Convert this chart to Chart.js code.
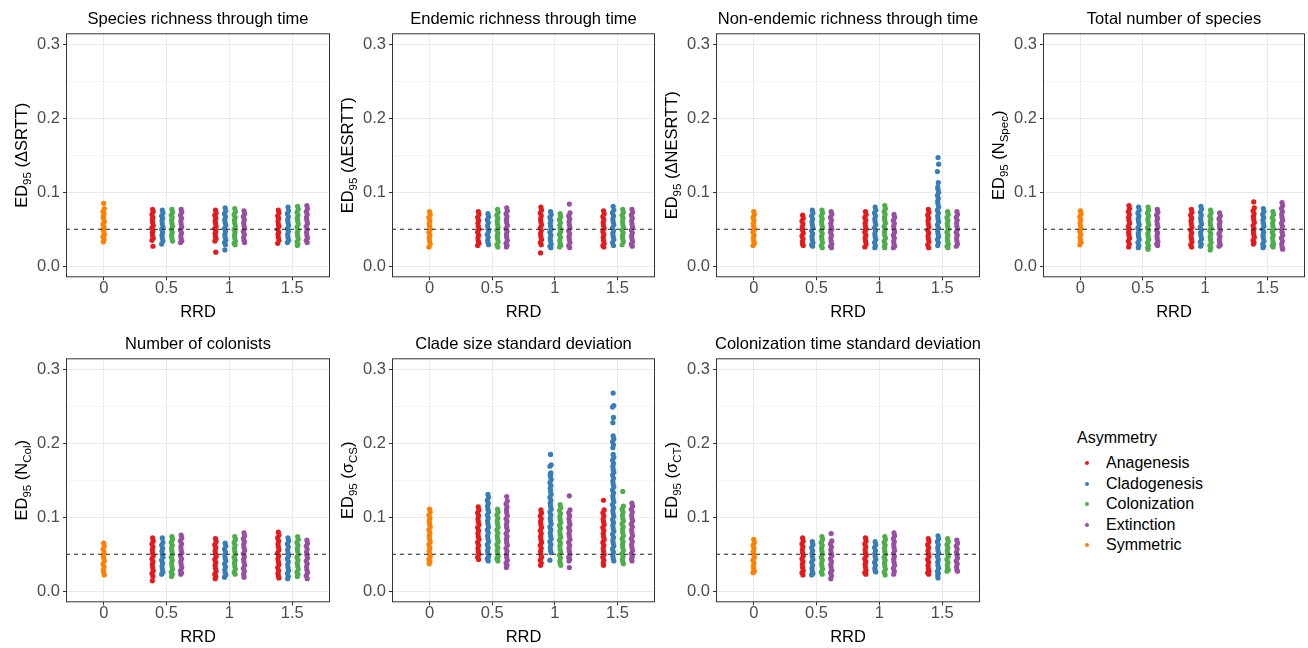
<!DOCTYPE html>
<html>
<head>
<meta charset="utf-8">
<script src="https://cdn.jsdelivr.net/npm/chart.js"></script>
<style>
  body { margin: 0; width: 1308px; height: 648px; overflow: hidden; background: #fff;
         font-family: "Liberation Sans", Arial, sans-serif; }
  .panel { position: absolute; }
  .leg { position: absolute; font-size: 16px; line-height: 20px; height: 20px; color: #000; white-space: nowrap; }
  .dot { position: absolute; width: 4px; height: 4px; border-radius: 50%; }
</style>
</head>
<body>
<div id="wrap"></div>
<script>
// categories and labels
const rrdLabels = ['0', '0.5', '1', '1.5'];
const groupNames = ['Anagenesis', 'Cladogenesis', 'Colonization', 'Extinction', 'Symmetric'];
const groupColors = ['#E41A1C', '#377EB8', '#4DAF4A', '#984EA3', '#FF7F00'];
const yBreaks = [0, 0.05, 0.1, 0.15, 0.2, 0.25, 0.3];
const yBreakLabels = ['0.0', '', '0.1', '', '0.2', '', '0.3'];
const threshold = 0.05;

const panelTitles = [
  'Species richness through time',
  'Endemic richness through time',
  'Non-endemic richness through time',
  'Total number of species',
  'Number of colonists',
  'Clade size standard deviation',
  'Colonization time standard deviation'
];
// y axis titles, [text, isSubscript]
const yTitleParts = [
  [['ED'], ['95', 1], [' (ΔSRTT)']],
  [['ED'], ['95', 1], [' (ΔESRTT)']],
  [['ED'], ['95', 1], [' (ΔNESRTT)']],
  [['ED'], ['95', 1], [' (N'], ['Spec', 1], [')']],
  [['ED'], ['95', 1], [' (N'], ['Col', 1], [')']],
  [['ED'], ['95', 1], [' (σ'], ['CS', 1], [')']],
  [['ED'], ['95', 1], [' (σ'], ['CT', 1], [')']]
];

// ED95 values; Sym = RRD 0, others = [RRD 0.5, RRD 1, RRD 1.5]
// Species richness through time
const p1Sym = [0.085, 0.078, 0.074, 0.071, 0.067, 0.064, 0.060, 0.057, 0.053, 0.050, 0.047, 0.043, 0.040, 0.036, 0.033];
const p1Ana = [
  [0.077, 0.074, 0.070, 0.066, 0.063, 0.059, 0.055, 0.052, 0.048, 0.045, 0.041, 0.038, 0.035, 0.027],
  [0.076, 0.072, 0.069, 0.065, 0.061, 0.058, 0.054, 0.051, 0.047, 0.044, 0.040, 0.037, 0.034, 0.019],
  [0.076, 0.072, 0.068, 0.065, 0.061, 0.057, 0.054, 0.050, 0.046, 0.043, 0.039, 0.035, 0.031]];
const p1Cla = [
  [0.076, 0.072, 0.068, 0.065, 0.061, 0.057, 0.053, 0.050, 0.046, 0.042, 0.038, 0.034, 0.030],
  [0.079, 0.075, 0.071, 0.067, 0.063, 0.059, 0.055, 0.051, 0.047, 0.043, 0.039, 0.035, 0.032, 0.029, 0.022],
  [0.080, 0.075, 0.071, 0.067, 0.063, 0.059, 0.055, 0.051, 0.047, 0.043, 0.039, 0.035, 0.032]];
const p1Col = [
  [0.077, 0.073, 0.069, 0.066, 0.062, 0.058, 0.054, 0.050, 0.046, 0.042, 0.038, 0.034],
  [0.078, 0.074, 0.070, 0.066, 0.062, 0.058, 0.054, 0.050, 0.046, 0.042, 0.038, 0.034, 0.031, 0.029],
  [0.081, 0.077, 0.073, 0.069, 0.065, 0.061, 0.057, 0.053, 0.049, 0.045, 0.041, 0.037, 0.033, 0.030, 0.028]];
const p1Ext = [
  [0.077, 0.073, 0.069, 0.065, 0.061, 0.057, 0.053, 0.049, 0.045, 0.041, 0.037, 0.034, 0.032],
  [0.075, 0.071, 0.067, 0.063, 0.059, 0.055, 0.051, 0.047, 0.043, 0.039, 0.035, 0.032],
  [0.082, 0.078, 0.074, 0.070, 0.066, 0.062, 0.058, 0.054, 0.050, 0.046, 0.042, 0.038, 0.035, 0.032]];

// Endemic richness through time
const p2Sym = [0.074, 0.070, 0.066, 0.062, 0.058, 0.054, 0.050, 0.046, 0.042, 0.038, 0.034, 0.030, 0.026];
const p2Ana = [
  [0.074, 0.070, 0.066, 0.062, 0.058, 0.054, 0.050, 0.046, 0.042, 0.038, 0.034, 0.031, 0.028],
  [0.080, 0.076, 0.072, 0.068, 0.064, 0.060, 0.056, 0.052, 0.048, 0.044, 0.040, 0.036, 0.032, 0.029, 0.018],
  [0.075, 0.071, 0.067, 0.063, 0.059, 0.055, 0.051, 0.047, 0.043, 0.039, 0.035, 0.031, 0.028, 0.026]];
const p2Cla = [
  [0.071, 0.067, 0.063, 0.059, 0.055, 0.051, 0.047, 0.043, 0.039, 0.035, 0.032, 0.029],
  [0.074, 0.070, 0.066, 0.062, 0.058, 0.054, 0.050, 0.046, 0.042, 0.038, 0.034, 0.030, 0.027, 0.025],
  [0.081, 0.076, 0.072, 0.068, 0.064, 0.060, 0.056, 0.052, 0.048, 0.044, 0.040, 0.036, 0.032, 0.028]];
const p2Col = [
  [0.077, 0.073, 0.069, 0.065, 0.061, 0.057, 0.053, 0.049, 0.045, 0.041, 0.037, 0.033, 0.029, 0.026],
  [0.071, 0.067, 0.063, 0.059, 0.055, 0.051, 0.047, 0.043, 0.039, 0.035, 0.031, 0.028, 0.026],
  [0.077, 0.073, 0.069, 0.065, 0.061, 0.057, 0.053, 0.049, 0.045, 0.041, 0.037, 0.033, 0.029]];
const p2Ext = [
  [0.079, 0.075, 0.071, 0.067, 0.063, 0.059, 0.055, 0.051, 0.047, 0.043, 0.039, 0.035, 0.031, 0.028, 0.026],
  [0.084, 0.072, 0.068, 0.064, 0.060, 0.056, 0.052, 0.048, 0.044, 0.040, 0.036, 0.032, 0.028, 0.025],
  [0.077, 0.073, 0.069, 0.065, 0.061, 0.057, 0.053, 0.049, 0.045, 0.041, 0.037, 0.033, 0.030, 0.027]];

// Non-endemic richness through time
const p3Sym = [0.074, 0.070, 0.066, 0.062, 0.058, 0.054, 0.050, 0.046, 0.042, 0.038, 0.034, 0.031, 0.028];
const p3Ana = [
  [0.069, 0.065, 0.061, 0.057, 0.053, 0.049, 0.045, 0.041, 0.037, 0.033, 0.030, 0.028],
  [0.074, 0.070, 0.066, 0.062, 0.058, 0.054, 0.050, 0.046, 0.042, 0.038, 0.034, 0.030, 0.026],
  [0.077, 0.073, 0.069, 0.065, 0.061, 0.057, 0.053, 0.049, 0.045, 0.041, 0.037, 0.033, 0.029, 0.025]];
const p3Cla = [
  [0.076, 0.072, 0.068, 0.064, 0.060, 0.056, 0.052, 0.048, 0.044, 0.040, 0.036, 0.032, 0.029, 0.027],
  [0.080, 0.076, 0.072, 0.068, 0.064, 0.060, 0.056, 0.052, 0.048, 0.044, 0.040, 0.036, 0.032, 0.028, 0.025],
  [0.147, 0.138, 0.128, 0.113, 0.107, 0.104, 0.100, 0.096, 0.092, 0.088, 0.084, 0.080, 0.076, 0.072, 0.068,
   0.064, 0.060, 0.056, 0.052, 0.048, 0.044, 0.040, 0.036, 0.032, 0.028]];
const p3Col = [
  [0.076, 0.072, 0.068, 0.064, 0.060, 0.056, 0.052, 0.048, 0.044, 0.040, 0.036, 0.032, 0.028, 0.025],
  [0.082, 0.078, 0.074, 0.070, 0.066, 0.062, 0.058, 0.054, 0.050, 0.046, 0.042, 0.038, 0.034, 0.030, 0.027, 0.025],
  [0.074, 0.070, 0.066, 0.062, 0.058, 0.054, 0.050, 0.046, 0.042, 0.038, 0.034, 0.030, 0.027, 0.025]];
const p3Ext = [
  [0.074, 0.070, 0.066, 0.062, 0.058, 0.054, 0.050, 0.046, 0.042, 0.038, 0.034, 0.030, 0.027, 0.025],
  [0.070, 0.066, 0.062, 0.058, 0.054, 0.050, 0.046, 0.042, 0.038, 0.034, 0.030, 0.027, 0.025],
  [0.074, 0.070, 0.066, 0.062, 0.058, 0.054, 0.050, 0.046, 0.042, 0.038, 0.034, 0.030, 0.027]];

// Total number of species
const p4Sym = [0.075, 0.071, 0.067, 0.063, 0.059, 0.055, 0.051, 0.047, 0.043, 0.039, 0.035, 0.032, 0.029];
const p4Ana = [
  [0.082, 0.078, 0.074, 0.070, 0.066, 0.062, 0.058, 0.054, 0.050, 0.046, 0.042, 0.038, 0.034, 0.030, 0.026],
  [0.077, 0.073, 0.069, 0.065, 0.061, 0.057, 0.053, 0.049, 0.045, 0.041, 0.037, 0.033, 0.029, 0.026],
  [0.087, 0.079, 0.075, 0.071, 0.067, 0.063, 0.059, 0.055, 0.051, 0.047, 0.043, 0.039, 0.035, 0.032, 0.030]];
const p4Cla = [
  [0.080, 0.076, 0.072, 0.068, 0.064, 0.060, 0.056, 0.052, 0.048, 0.044, 0.040, 0.036, 0.032, 0.028, 0.025],
  [0.081, 0.077, 0.073, 0.069, 0.065, 0.061, 0.057, 0.053, 0.049, 0.045, 0.041, 0.037, 0.033, 0.030, 0.027],
  [0.078, 0.074, 0.070, 0.066, 0.062, 0.058, 0.054, 0.050, 0.046, 0.042, 0.038, 0.034, 0.030, 0.027, 0.025]];
const p4Col = [
  [0.080, 0.076, 0.072, 0.068, 0.064, 0.060, 0.056, 0.052, 0.048, 0.044, 0.040, 0.036, 0.032, 0.028, 0.025, 0.023],
  [0.076, 0.072, 0.068, 0.064, 0.060, 0.056, 0.052, 0.048, 0.044, 0.040, 0.036, 0.032, 0.028, 0.025, 0.022],
  [0.074, 0.070, 0.066, 0.062, 0.058, 0.054, 0.050, 0.046, 0.042, 0.038, 0.034, 0.030, 0.028, 0.026]];
const p4Ext = [
  [0.077, 0.073, 0.069, 0.065, 0.061, 0.057, 0.053, 0.049, 0.045, 0.041, 0.037, 0.033, 0.030, 0.028],
  [0.072, 0.068, 0.064, 0.060, 0.056, 0.052, 0.048, 0.044, 0.040, 0.036, 0.032, 0.029, 0.027],
  [0.086, 0.082, 0.078, 0.074, 0.070, 0.066, 0.062, 0.058, 0.054, 0.050, 0.046, 0.042, 0.038, 0.034, 0.030, 0.026, 0.023]];

// Number of colonists
const p5Sym = [0.065, 0.061, 0.057, 0.053, 0.049, 0.045, 0.041, 0.037, 0.033, 0.029, 0.025, 0.022];
const p5Ana = [
  [0.072, 0.068, 0.064, 0.060, 0.056, 0.052, 0.048, 0.044, 0.040, 0.036, 0.032, 0.028, 0.024, 0.020, 0.014],
  [0.071, 0.067, 0.063, 0.059, 0.055, 0.051, 0.047, 0.043, 0.039, 0.035, 0.031, 0.027, 0.023, 0.020, 0.017],
  [0.080, 0.076, 0.072, 0.068, 0.064, 0.060, 0.056, 0.052, 0.048, 0.044, 0.040, 0.036, 0.032, 0.028, 0.024, 0.021, 0.018]];
const p5Cla = [
  [0.072, 0.066, 0.062, 0.058, 0.054, 0.050, 0.046, 0.042, 0.038, 0.034, 0.030, 0.026, 0.023],
  [0.065, 0.061, 0.057, 0.053, 0.049, 0.045, 0.041, 0.037, 0.033, 0.029, 0.025, 0.022, 0.019],
  [0.072, 0.068, 0.064, 0.060, 0.056, 0.052, 0.048, 0.044, 0.040, 0.036, 0.032, 0.028, 0.024, 0.020, 0.017]];
const p5Col = [
  [0.074, 0.070, 0.066, 0.062, 0.058, 0.054, 0.050, 0.046, 0.042, 0.038, 0.034, 0.030, 0.026, 0.023, 0.020],
  [0.074, 0.070, 0.066, 0.062, 0.058, 0.054, 0.050, 0.046, 0.042, 0.038, 0.034, 0.030, 0.026, 0.023],
  [0.074, 0.070, 0.066, 0.062, 0.058, 0.054, 0.050, 0.046, 0.042, 0.038, 0.034, 0.030, 0.026, 0.023, 0.020]];
const p5Ext = [
  [0.076, 0.072, 0.068, 0.064, 0.060, 0.056, 0.052, 0.048, 0.044, 0.040, 0.036, 0.032, 0.028, 0.025, 0.023],
  [0.079, 0.075, 0.071, 0.067, 0.063, 0.059, 0.055, 0.051, 0.047, 0.043, 0.039, 0.035, 0.031, 0.027, 0.023, 0.019],
  [0.069, 0.065, 0.061, 0.057, 0.053, 0.049, 0.045, 0.041, 0.037, 0.033, 0.029, 0.025, 0.021, 0.017]];

// Clade size standard deviation
const p6Sym = [0.111, 0.107, 0.103, 0.099, 0.095, 0.091, 0.087, 0.083, 0.079, 0.075, 0.071, 0.067, 0.063, 0.059,
  0.055, 0.051, 0.047, 0.043, 0.040, 0.037];
const p6Ana = [
  [0.114, 0.110, 0.106, 0.102, 0.098, 0.094, 0.090, 0.086, 0.082, 0.078, 0.074, 0.070, 0.066, 0.062, 0.058,
   0.054, 0.050, 0.046, 0.043],
  [0.110, 0.106, 0.102, 0.098, 0.094, 0.090, 0.086, 0.082, 0.078, 0.074, 0.070, 0.066, 0.062, 0.058, 0.054,
   0.050, 0.046, 0.042, 0.038, 0.035],
  [0.123, 0.110, 0.106, 0.102, 0.098, 0.094, 0.090, 0.086, 0.082, 0.078, 0.074, 0.070, 0.066, 0.062, 0.058,
   0.054, 0.050, 0.046, 0.042, 0.038, 0.035]];
const p6Cla = [
  [0.131, 0.127, 0.123, 0.119, 0.115, 0.111, 0.107, 0.103, 0.099, 0.095, 0.091, 0.087, 0.083, 0.079, 0.075,
   0.071, 0.067, 0.063, 0.059, 0.055, 0.051, 0.047, 0.044, 0.041],
  [0.185, 0.171, 0.169, 0.160, 0.158, 0.155, 0.151, 0.147, 0.143, 0.139, 0.135, 0.131, 0.127, 0.123, 0.119,
   0.115, 0.111, 0.107, 0.103, 0.099, 0.095, 0.091, 0.087, 0.083, 0.079, 0.075, 0.071, 0.067, 0.063, 0.059,
   0.055, 0.052, 0.042],
  [0.268, 0.251, 0.249, 0.235, 0.228, 0.210, 0.206, 0.202, 0.198, 0.194, 0.185, 0.181, 0.177, 0.173, 0.169,
   0.165, 0.161, 0.157, 0.153, 0.149, 0.145, 0.141, 0.137, 0.133, 0.129, 0.125, 0.121, 0.117, 0.113, 0.109,
   0.105, 0.101, 0.097, 0.093, 0.089, 0.085, 0.081, 0.077, 0.073, 0.069, 0.065, 0.061, 0.057, 0.053, 0.049,
   0.045, 0.041]];
const p6Col = [
  [0.111, 0.107, 0.103, 0.099, 0.095, 0.091, 0.087, 0.083, 0.079, 0.075, 0.071, 0.067, 0.063, 0.059, 0.055,
   0.051, 0.047, 0.044, 0.041],
  [0.117, 0.113, 0.109, 0.105, 0.101, 0.097, 0.093, 0.089, 0.085, 0.081, 0.077, 0.073, 0.069, 0.065, 0.061,
   0.057, 0.053, 0.049, 0.045, 0.041, 0.038, 0.035],
  [0.135, 0.115, 0.111, 0.107, 0.103, 0.099, 0.095, 0.091, 0.087, 0.083, 0.079, 0.075, 0.071, 0.067, 0.063,
   0.059, 0.055, 0.051, 0.047, 0.043, 0.040, 0.037]];
const p6Ext = [
  [0.128, 0.122, 0.118, 0.114, 0.110, 0.106, 0.102, 0.098, 0.094, 0.090, 0.086, 0.082, 0.078, 0.074, 0.070,
   0.066, 0.062, 0.058, 0.054, 0.050, 0.046, 0.042, 0.038, 0.035, 0.032],
  [0.129, 0.110, 0.106, 0.102, 0.098, 0.094, 0.090, 0.086, 0.082, 0.078, 0.074, 0.070, 0.066, 0.062, 0.058,
   0.054, 0.050, 0.046, 0.043, 0.041, 0.032],
  [0.119, 0.115, 0.111, 0.107, 0.103, 0.099, 0.095, 0.091, 0.087, 0.083, 0.079, 0.075, 0.071, 0.067, 0.063,
   0.059, 0.055, 0.051, 0.047, 0.044, 0.041]];

// Colonization time standard deviation
const p7Sym = [0.070, 0.066, 0.062, 0.058, 0.054, 0.050, 0.046, 0.042, 0.038, 0.034, 0.030, 0.027, 0.025];
const p7Ana = [
  [0.072, 0.068, 0.064, 0.060, 0.056, 0.052, 0.048, 0.044, 0.040, 0.036, 0.032, 0.028, 0.025, 0.022],
  [0.072, 0.068, 0.064, 0.060, 0.056, 0.052, 0.048, 0.044, 0.040, 0.036, 0.032, 0.028, 0.025, 0.023],
  [0.071, 0.067, 0.063, 0.059, 0.055, 0.051, 0.047, 0.043, 0.039, 0.035, 0.031, 0.027, 0.025, 0.023]];
const p7Cla = [
  [0.067, 0.063, 0.059, 0.055, 0.051, 0.047, 0.043, 0.039, 0.035, 0.031, 0.027, 0.024, 0.022],
  [0.067, 0.063, 0.059, 0.055, 0.051, 0.047, 0.043, 0.039, 0.035, 0.031, 0.028, 0.026],
  [0.075, 0.071, 0.067, 0.063, 0.059, 0.055, 0.051, 0.047, 0.043, 0.039, 0.035, 0.031, 0.027, 0.024, 0.021, 0.018]];
const p7Col = [
  [0.074, 0.070, 0.066, 0.062, 0.058, 0.054, 0.050, 0.046, 0.042, 0.038, 0.034, 0.030, 0.026, 0.023],
  [0.074, 0.070, 0.066, 0.062, 0.058, 0.054, 0.050, 0.046, 0.042, 0.038, 0.034, 0.030, 0.026, 0.022],
  [0.071, 0.067, 0.063, 0.059, 0.055, 0.051, 0.047, 0.043, 0.039, 0.035, 0.031, 0.029, 0.027]];
const p7Ext = [
  [0.078, 0.068, 0.064, 0.060, 0.056, 0.052, 0.048, 0.044, 0.040, 0.036, 0.032, 0.028, 0.025, 0.021, 0.017],
  [0.079, 0.075, 0.071, 0.067, 0.063, 0.059, 0.055, 0.051, 0.047, 0.043, 0.039, 0.035, 0.031, 0.027, 0.023],
  [0.069, 0.065, 0.061, 0.057, 0.053, 0.049, 0.045, 0.041, 0.037, 0.033, 0.029, 0.027]];

const panelData = [
  [p1Sym, p1Ana, p1Cla, p1Col, p1Ext],
  [p2Sym, p2Ana, p2Cla, p2Col, p2Ext],
  [p3Sym, p3Ana, p3Cla, p3Col, p3Ext],
  [p4Sym, p4Ana, p4Cla, p4Col, p4Ext],
  [p5Sym, p5Ana, p5Cla, p5Col, p5Ext],
  [p6Sym, p6Ana, p6Cla, p6Col, p6Ext],
  [p7Sym, p7Ana, p7Cla, p7Col, p7Ext]
];

// layout (pixels)
const plotLeft = [66, 392, 716, 1043];
const plotWidth = [264, 263, 264, 262];
const rowTop = [0, 325];
const axisW = 66, topPad = 33.3, plotH = 244, canvasH = 324;

// dodge and jitter in x units (discrete positions 1..4)
const dodge = [-0.222, -0.068, 0.085, 0.232];
const jitter = [0, 0.01, -0.01, 0.005, -0.005];
const FONT = '"Liberation Sans", Arial, sans-serif';

Chart.defaults.font.family = FONT;

const panelDeco = {
  id: 'panelDeco',
  afterDraw(chart, args, opts) {
    const { ctx, chartArea: a } = chart;
    ctx.save();
    ctx.strokeStyle = '#333';
    ctx.lineWidth = 1;
    ctx.strokeRect(a.left + 0.5, a.top + 0.5, a.right - a.left - 1, a.bottom - a.top - 1);

    ctx.fillStyle = '#000';
    ctx.font = '16.5px ' + FONT;
    ctx.textAlign = 'center';
    ctx.textBaseline = 'alphabetic';
    ctx.fillText(opts.title, (a.left + a.right) / 2, 23.5);

    // rotated y title with subscripts
    ctx.translate(27, (a.top + a.bottom) / 2);
    ctx.rotate(-Math.PI / 2);
    ctx.textAlign = 'left';
    const fontOf = p => (p[1] ? '11.5px ' : '16.5px ') + FONT;
    let total = 0;
    opts.yTitle.forEach(p => { ctx.font = fontOf(p); total += ctx.measureText(p[0]).width; });
    let x = -total / 2;
    opts.yTitle.forEach(p => {
      ctx.font = fontOf(p);
      ctx.fillText(p[0], x, p[1] ? 4 : 0);
      x += ctx.measureText(p[0]).width;
    });
    ctx.restore();
  }
};

function drawPanel(k) {
  const col = k % 4, row = Math.floor(k / 4);
  const w = axisW + plotWidth[col] + 4;
  const div = document.createElement('div');
  div.className = 'panel';
  div.style.left = (plotLeft[col] - axisW) + 'px';
  div.style.top = rowTop[row] + 'px';
  const canvas = document.createElement('canvas');
  canvas.width = w;
  canvas.height = canvasH;
  div.appendChild(canvas);
  document.getElementById('wrap').appendChild(div);

  const [sym, ...asym] = panelData[k];
  const datasets = asym.map((levels, g) => ({
    label: groupNames[g],
    data: levels.flatMap((vals, r) => vals.map((v, i) => ({ x: r + 2 + dodge[g] + jitter[i % jitter.length], y: v }))),
    backgroundColor: groupColors[g],
    borderWidth: 0,
    pointRadius: 2.6
  }));
  datasets.push({
    label: groupNames[4],
    data: sym.map((v, i) => ({ x: 1 + jitter[i % jitter.length], y: v })),
    backgroundColor: groupColors[4],
    borderWidth: 0,
    pointRadius: 2.6
  });
  datasets.push({
    type: 'line',
    label: 'threshold',
    data: [{ x: 0.4, y: threshold }, { x: 4.6, y: threshold }],
    borderColor: '#222',
    borderWidth: 1,
    borderDash: [4, 4],
    pointRadius: 0,
    order: -1
  });

  new Chart(canvas.getContext('2d'), {
    type: 'scatter',
    data: { datasets },
    plugins: [panelDeco],
    options: {
      responsive: false,
      animation: false,
      devicePixelRatio: 1,
      events: [],
      layout: { padding: { top: topPad, right: 4, bottom: 0, left: 0 } },
      plugins: {
        legend: { display: false },
        tooltip: { enabled: false },
        panelDeco: { title: panelTitles[k], yTitle: yTitleParts[k] }
      },
      scales: {
        x: {
          type: 'linear', min: 0.4, max: 4.6,
          afterBuildTicks: s => { s.ticks = rrdLabels.map((_, i) => ({ value: i + 1 })); },
          afterFit: s => { s.height = canvasH - topPad - plotH; },
          ticks: {
            callback: (v, i) => rrdLabels[i],
            color: '#4D4D4D', font: { size: 16.5, lineHeight: 1 }, padding: 0,
            autoSkip: false, maxRotation: 0
          },
          grid: { color: '#EBEBEB', lineWidth: 1, tickColor: '#333', tickLength: 3 },
          border: { display: false },
          title: { display: true, text: 'RRD', color: '#000', font: { size: 16.5 }, padding: { top: 0, bottom: 2 } }
        },
        y: {
          min: -0.015, max: 0.315,
          afterBuildTicks: s => { s.ticks = yBreaks.map(v => ({ value: v })); },
          afterFit: s => { s.width = axisW; },
          ticks: {
            callback: (v, i) => yBreakLabels[i],
            color: '#4D4D4D', font: { size: 16.5 }, padding: 3, autoSkip: false
          },
          grid: {
            color: c => (c.index % 2 ? '#F4F4F4' : '#EBEBEB'),
            lineWidth: 1,
            tickColor: c => (c.index % 2 ? 'rgba(0,0,0,0)' : '#333'),
            tickLength: 3
          },
          border: { display: false }
        }
      }
    }
  });
}

panelTitles.forEach((_, k) => drawPanel(k));

// legend
const wrap = document.getElementById('wrap');
const legTitle = document.createElement('div');
legTitle.className = 'leg';
legTitle.style.left = '1077px';
legTitle.style.top = '428px';
legTitle.textContent = 'Asymmetry';
wrap.appendChild(legTitle);
groupNames.forEach((name, i) => {
  const top = 453.3 + i * 20.4;
  const d = document.createElement('div');
  d.className = 'dot';
  d.style.background = groupColors[i];
  d.style.left = '1085px';
  d.style.top = (top + 8) + 'px';
  wrap.appendChild(d);
  const t = document.createElement('div');
  t.className = 'leg';
  t.style.left = '1106px';
  t.style.top = top + 'px';
  t.textContent = name;
  wrap.appendChild(t);
});
</script>
</body>
</html>
